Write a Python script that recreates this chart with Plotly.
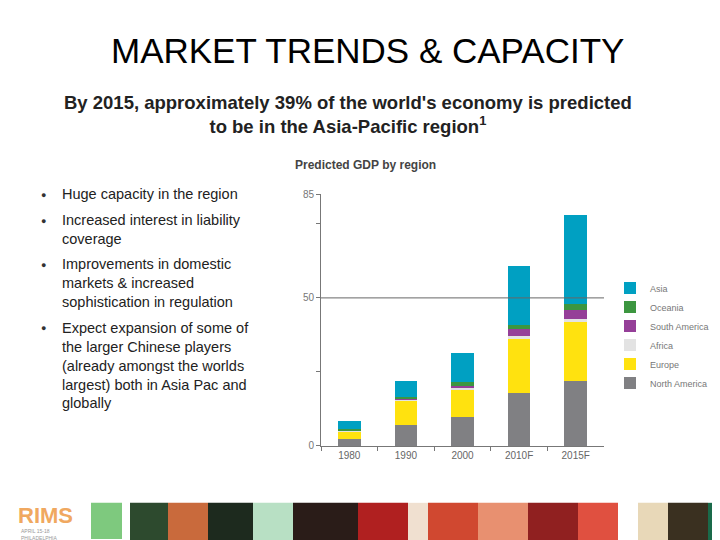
import plotly.graph_objects as go

years = ["1980", "1990", "2000", "2010F", "2015F"]
north_america = [2.5, 7.1, 9.7, 17.9, 21.8]
europe = [2.2, 8.3, 9.3, 18.1, 20.1]
africa = [0.3, 0.3, 0.5, 1.1, 1.1]
south_america = [0.3, 0.3, 0.9, 2.5, 2.9]
oceania = [0.5, 0.6, 1.1, 1.4, 1.9]
asia = [2.6, 5.3, 9.9, 19.9, 30.1]

series = [("North America", north_america, "#808083"), ("Europe", europe, "#ffe20f"),
          ("Africa", africa, "#e3e3e3"), ("South America", south_america, "#953f98"),
          ("Oceania", oceania, "#3c9640"), ("Asia", asia, "#00a0c2")]

fig = go.Figure()
for name, vals, col in series:
    fig.add_trace(go.Bar(x=years, y=vals, name=name, marker_color=col, marker_line_width=0, width=0.4))

W, H = 720, 540
def px(x): return x / W
def py(y): return 1 - y / H

fig.update_layout(
    width=W, height=H, margin=dict(l=0, r=0, t=0, b=0), barmode="stack",
    paper_bgcolor="white", plot_bgcolor="white",
    font=dict(family="Liberation Sans, Arial", color="#222"),
    xaxis=dict(domain=[px(313), px(596)], showline=True, linecolor="#777", ticks="outside",
               tickson="boundaries", ticklen=4, tickcolor="#777",
               tickfont=dict(size=10, color="#666"), showgrid=False),
    yaxis=dict(domain=[py(442), py(185)], range=[0, 85], showline=True, linecolor="#777",
               tickvals=[0, 25, 50, 75, 85], ticktext=["0", "", "50", "", "85"], ticks="outside",
               ticklen=4, tickcolor="#777", tickfont=dict(size=10, color="#777"), showgrid=False,
               zeroline=False),
    legend=dict(x=px(602), y=py(266), xanchor="left", yanchor="top", traceorder="reversed",
                font=dict(size=9, color="#777"), itemwidth=30, tracegroupgap=0,
                bgcolor="rgba(0,0,0,0)"),
    showlegend=True,
)
fig.add_shape(type="line", xref="paper", yref="y", x0=px(313), x1=px(596), y0=50, y1=50,
              line=dict(color="#666", width=1))

ann = []
ann.append(dict(text="MARKET TRENDS & CAPACITY", x=px(359), y=py(38), font=dict(size=35, color="#000")))
ann.append(dict(text="<b>By 2015, approximately 39% of the world's economy is predicted<br>to be in the Asia-Pacific region<sup>1</sup></b>",
                x=px(340), y=py(104), font=dict(size=18.5, color="#222")))
ann.append(dict(text="<b>Predicted GDP by region</b>", x=px(285), y=py(155), xanchor="left",
                font=dict(size=12, color="#444")))
for a in ann:
    a.setdefault("xanchor", "center")
    a.update(xref="paper", yref="paper", showarrow=False, yanchor="middle")
    fig.add_annotation(**a)

bullets = [(193, "Huge capacity in the region"),
           (219, "Increased interest in liability<br>coverage"),
           (264, "Improvements in domestic<br>markets & increased<br>sophistication in regulation"),
           (329, "Expect expansion of some of<br>the larger Chinese players<br>(already amongst the worlds<br>largest) both in Asia Pac and<br>globally")]
for y, t in bullets:
    fig.add_annotation(text="●", x=px(35), y=py(y - 7), xref="paper", yref="paper", showarrow=False,
                       xanchor="center", yanchor="middle", font=dict(size=9, color="#333"))
    fig.add_annotation(text=t, x=px(52), y=py(y - 18), xref="paper", yref="paper", showarrow=False,
                       xanchor="left", yanchor="top", align="left", font=dict(size=14.5, color="#222"))

# footer
fig.add_annotation(text="<b>RIMS</b>", x=px(8), y=py(513), xref="paper", yref="paper", showarrow=False,
                   xanchor="left", yanchor="middle", font=dict(size=22, color="#f0a860"))
fig.add_annotation(text="APRIL 15-18<br>PHILADELPHIA", x=px(11), y=py(532), xref="paper", yref="paper",
                   showarrow=False, xanchor="left", yanchor="middle", align="left",
                   font=dict(size=5, color="#999"))
fig.add_shape(type="rect", xref="paper", yref="paper", x0=px(83), x1=px(114), y0=py(500), y1=py(537),
              fillcolor="#7ec97e", line_width=0)
stripes = [(122, 160, "#2d4a2e"), (160, 200, "#c96a3c"), (200, 245, "#1d2a1e"), (245, 285, "#b8e0c4"),
           (285, 350, "#2a1c18"), (350, 400, "#b02020"), (400, 420, "#f0e0d0"), (420, 470, "#d04830"),
           (470, 520, "#e89070"), (520, 570, "#902020"), (570, 610, "#e05040"), (610, 630, "#ffffff"),
           (630, 660, "#e8d8b8"), (660, 700, "#3a3020"), (700, 720, "#1a6a4a")]
for x0, x1, c in stripes:
    fig.add_shape(type="rect", xref="paper", yref="paper", x0=px(x0), x1=px(x1), y0=py(500), y1=0,
                  fillcolor=c, line_width=0, layer="below")

fig.write_html("out.html")
